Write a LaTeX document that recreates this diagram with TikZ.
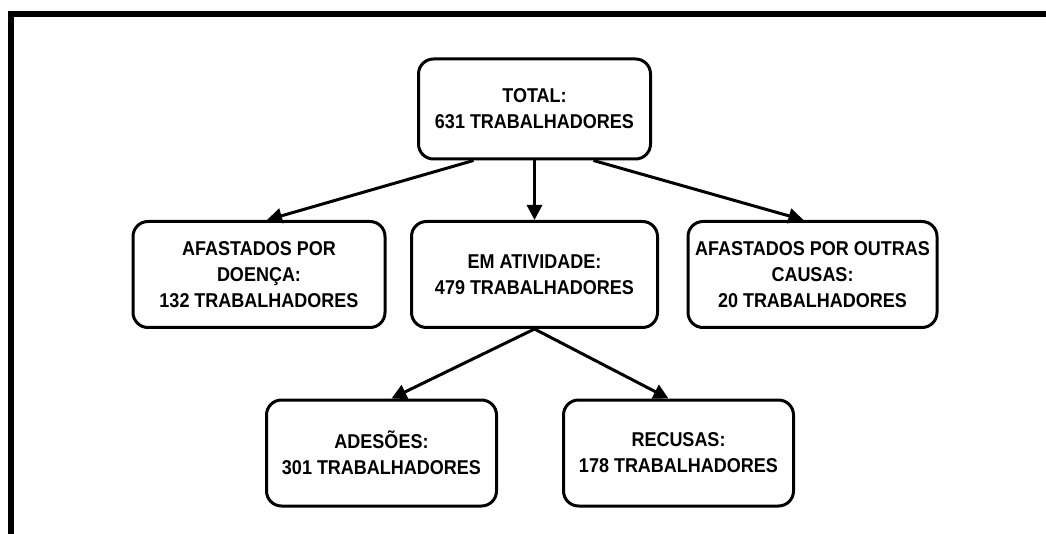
\documentclass[tikz,border=0pt]{standalone}
\usepackage{fontspec}
\setmainfont{Liberation Sans}[FakeStretch=0.9]
\usepackage{tikz}
\usetikzlibrary{arrows.meta, positioning}
\tikzset{
    caixa/.style={rectangle, rounded corners=15pt, draw=black, line width=3pt, fill=white, align=center, inner sep=0pt, font=\fontsize{20}{26}\selectfont\bfseries},
    seta/.style={-{Triangle[length=15pt,width=15pt]}, line width=3pt}
}
\begin{document}
\begin{tikzpicture}[x=1pt, y=-1pt]
  \useasboundingbox (0,0) rectangle (1046,534);
  % moldura
  \draw[line width=6pt, line join=miter] (11,540) -- (11,14) -- (1050,14);
  \node[caixa, minimum width=232pt, minimum height=100pt] (total) at (534.5,109) {TOTAL:\\631 TRABALHADORES};
  \node[caixa, minimum width=252pt, minimum height=106pt] (doenca) at (259,274.5) {AFASTADOS POR\\DOENÇA:\\132 TRABALHADORES};
  \node[caixa, minimum width=246pt, minimum height=106pt] (ativ) at (534.5,274.5) {EM ATIVIDADE:\\479 TRABALHADORES};
  \node[caixa, minimum width=249pt, minimum height=106pt] (outras) at (812.5,274.5) {AFASTADOS POR OUTRAS\\CAUSAS:\\20 TRABALHADORES};
  \node[caixa, minimum width=230pt, minimum height=106pt] (adesoes) at (381.5,453) {ADESÕES:\\301 TRABALHADORES};
  \node[caixa, minimum width=230pt, minimum height=106pt] (recusas) at (678.5,453) {RECUSAS:\\178 TRABALHADORES};
  \draw[seta] ([xshift=-61pt]total.south) -- ([xshift=8pt]doenca.north);
  \draw[seta] (total.south) -- (ativ.north);
  \draw[seta] ([xshift=59pt]total.south) -- ([xshift=-9pt]outras.north);
  \draw[seta] (ativ.south) -- ([xshift=10pt]adesoes.north);
  \draw[seta] (ativ.south) -- ([xshift=-10pt]recusas.north);
\end{tikzpicture}
\end{document}
